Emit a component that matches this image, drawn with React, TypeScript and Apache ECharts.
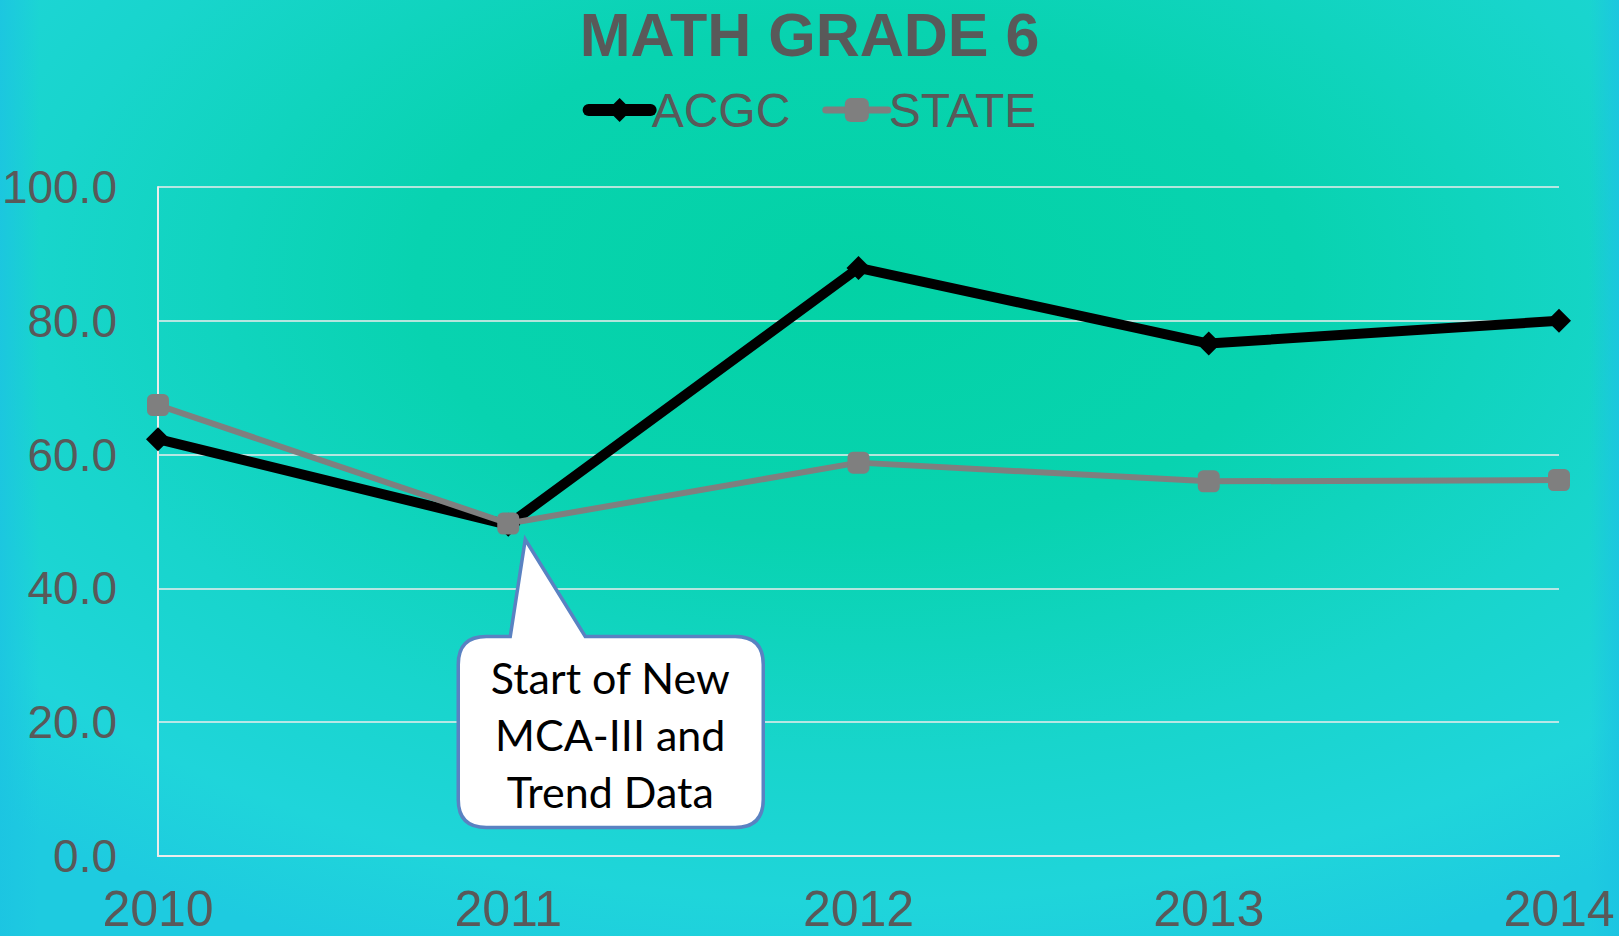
import React, { useEffect, useRef } from "react";
import * as echarts from "echarts";

const years = ["2010", "2011", "2012", "2013", "2014"];
const acgc = [62.3, 49.5, 87.9, 76.6, 80.0];
const state = [67.4, 49.7, 58.8, 56.0, 56.2];
const yTicks = { min: 0, max: 100, interval: 20 };
const titleText = "MATH GRADE 6";
const seriesNames = ["ACGC", "STATE"];
const calloutLines = ["Start of New", "MCA-III and", "Trend Data"];
const calloutIndex = 1;

const bubbleD =
  "M 0 0 L 60 97 L 210 97 Q 238 97 238 125 L 238 260 Q 238 288 210 288 L -39 288 Q -67 288 -67 260 L -67 125 Q -67 97 -39 97 L -15 97 Z";

let registered = false;

export default function App() {
  const ref = useRef<HTMLDivElement>(null);
  useEffect(() => {
    document.body.style.margin = "0";
    if (!registered) {
      echarts.graphic.registerShape("bubble", echarts.graphic.extendPath(bubbleD, {}) as any);
      registered = true;
    }
    const chart = echarts.init(ref.current!, undefined, { renderer: "svg" });
    const font = "'Liberation Sans', Arial, sans-serif";
    const grey = "#595959";
    chart.setOption({
      animation: false,
      backgroundColor: {
        type: "radial",
        x: 0.53,
        y: 0.3,
        r: 0.78,
        colorStops: [
          { offset: 0, color: "#03d2a5" },
          { offset: 0.35, color: "#08d3b0" },
          { offset: 0.65, color: "#18d5cc" },
          { offset: 0.85, color: "#1fd5da" },
          { offset: 1, color: "#1ecbe0" },
        ],
      },
      title: {
        text: titleText,
        left: "center",
        top: 0,
        padding: 0,
        textStyle: { fontFamily: font, fontSize: 61, fontWeight: "bold", color: grey, lineHeight: 70 },
      },
      legend: {
        data: [
          { name: seriesNames[0], lineStyle: { width: 12, cap: "round" } },
          { name: seriesNames[1], lineStyle: { width: 7, cap: "round" } },
        ],
        top: 86,
        left: "center",
        padding: 0,
        itemWidth: 62,
        itemHeight: 30,
        itemGap: 32,
        textStyle: { fontFamily: font, fontSize: 48, color: grey, lineHeight: 48, padding: [0, 0, 0, -4] },
      },
      grid: { left: 158, right: 60, top: 187, bottom: 80, outerBoundsMode: "none", containLabel: false },
      xAxis: {
        type: "category",
        data: years,
        boundaryGap: false,
        axisLine: { show: true, lineStyle: { color: "#ececec", width: 2 } },
        axisTick: { show: false },
        axisLabel: { fontFamily: font, fontSize: 50, color: grey, margin: 33, lineHeight: 40 },
        splitLine: { show: false },
      },
      yAxis: {
        type: "value",
        min: yTicks.min,
        max: yTicks.max,
        interval: yTicks.interval,
        axisLine: { show: true, lineStyle: { color: "#ececec", width: 2 } },
        axisTick: { show: false },
        axisLabel: {
          fontFamily: font,
          fontSize: 46,
          color: grey,
          margin: 41,
          formatter: (v: number) => v.toFixed(1),
        },
        splitLine: { show: true, lineStyle: { color: "#ececec", width: 1.5 } },
      },
      series: [
        {
          name: seriesNames[0],
          type: "line",
          data: acgc,
          color: "#000000",
          lineStyle: { width: 10, color: "#000000", join: "round" },
          symbol: "diamond",
          symbolSize: 24,
          itemStyle: { color: "#000000" },
        },
        {
          name: seriesNames[1],
          type: "line",
          data: state,
          color: "#7f7f7f",
          lineStyle: { width: 6, color: "#7f7f7f" },
          symbol: "roundRect",
          symbolSize: 22,
          itemStyle: { color: "#7f7f7f" },
        },
      ],
    });
    const p = chart.convertToPixel({ seriesIndex: 1 }, [calloutIndex, state[calloutIndex]]) as number[];
    const tipX = p[0] + 17;
    const tipY = p[1] + 16;
    chart.setOption({
      graphic: [
        {
          type: "rect",
          left: 0,
          top: 0,
          silent: true,
          shape: { width: 40, height: 936 },
          style: {
            fill: {
              type: "linear", x: 0, y: 0, x2: 1, y2: 0,
              colorStops: [
                { offset: 0, color: "rgba(28,196,226,0.85)" },
                { offset: 1, color: "rgba(28,196,226,0)" },
              ],
            },
          },
          z: -1,
        },
        {
          type: "rect",
          right: 0,
          top: 0,
          silent: true,
          shape: { width: 30, height: 936 },
          style: {
            fill: {
              type: "linear", x: 0, y: 0, x2: 1, y2: 0,
              colorStops: [
                { offset: 0, color: "rgba(28,196,226,0)" },
                { offset: 1, color: "rgba(28,196,226,0.85)" },
              ],
            },
          },
          z: -1,
        },
        {
          type: "group",
          x: tipX,
          y: tipY,
          z: 100,
          children: [
            {
              type: "bubble",
              x: 0,
              y: 0,
              style: { fill: "#ffffff", stroke: "#5a82c2", lineWidth: 3.5 },
            },
            {
              type: "text",
              x: 85,
              y: 195,
              style: {
                text: calloutLines.join("\n"),
                fontFamily: "Lato, 'Open Sans', sans-serif",
                fontSize: 43,
                lineHeight: 57,
                fill: "#000000",
                align: "center",
                verticalAlign: "middle",
              },
            },
          ],
        },
      ],
    });
    return () => chart.dispose();
  }, []);
  return <div ref={ref} style={{ width: 1619, height: 936 }} />;
}
